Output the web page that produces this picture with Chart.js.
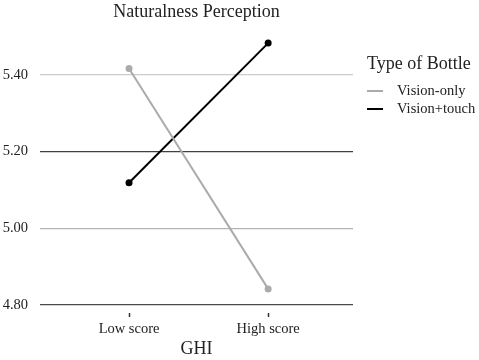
<!DOCTYPE html>
<html>
<head>
<meta charset="utf-8">
<script src="https://cdn.jsdelivr.net/npm/chart.js@4"></script>
<style>
html,body{margin:0;padding:0;background:#fff;}
#wrap{width:479px;height:360px;}
</style>
</head>
<body>
<div id="wrap"><canvas id="c" width="479" height="360"></canvas></div>
<script>
const categories = ['Low score', 'High score'];
const seriesNames = ['Vision-only', 'Vision+touch'];
const visionOnly = [5.417, 4.842];
const visionTouch = [5.119, 5.483];
const yTicks = [4.80, 5.00, 5.20, 5.40];
const seriesColors = ['#ababab', '#000000'];
const gridColors = {'4.8': '#4a4a4a', '5': '#b4b4b4', '5.2': '#404040', '5.4': '#cccccc'};

const FONT = "'Liberation Serif', 'Times New Roman', serif";

function pts(arr){ return arr.map((v,i)=>({x:i, y:v})); }

const legendPlugin = {
  id: 'customLegend',
  afterDraw(chart){
    const ctx = chart.ctx;
    ctx.save();
    ctx.fillStyle = '#222';
    ctx.textBaseline = 'middle';
    ctx.textAlign = 'left';
    ctx.font = '18px ' + FONT;
    ctx.fillText('Type of Bottle', 367, 64);
    ctx.font = '14.5px ' + FONT;
    const ys = [91, 109];
    chart.data.datasets.forEach((ds, i) => {
      ctx.strokeStyle = ds.borderColor;
      ctx.lineWidth = 2;
      ctx.beginPath();
      ctx.moveTo(367, ys[i]);
      ctx.lineTo(383, ys[i]);
      ctx.stroke();
      ctx.fillStyle = '#222';
      ctx.fillText(ds.label, 397, ys[i]);
    });
    ctx.restore();
  }
};

new Chart(document.getElementById('c'), {
  type: 'line',
  data: {
    datasets: [
      {label: seriesNames[0], data: pts(visionOnly), borderColor: seriesColors[0], backgroundColor: seriesColors[0], borderWidth: 2, pointRadius: 3.5, pointBorderWidth: 0},
      {label: seriesNames[1], data: pts(visionTouch), borderColor: seriesColors[1], backgroundColor: seriesColors[1], borderWidth: 2, pointRadius: 3.5, pointBorderWidth: 0}
    ]
  },
  options: {
    responsive: false,
    animation: false,
    devicePixelRatio: 1,
    layout: {padding: {left: 2, right: 126, top: 0, bottom: 0}},
    plugins: {
      legend: {display: false},
      tooltip: {enabled: false},
      title: {
        display: true,
        fullSize: false,
        text: 'Naturalness Perception',
        color: '#222',
        font: {family: FONT, size: 18, weight: 'normal'},
        padding: {top: 1, bottom: 14}
      }
    },
    scales: {
      x: {
        type: 'linear',
        min: -0.64,
        max: 1.61,
        afterBuildTicks(scale){ scale.ticks = categories.map((c,i)=>({value:i})); },
        afterFit(scale){ scale.height = 55; },
        ticks: {
          callback: (v) => categories[v],
          color: '#222',
          font: {family: FONT, size: 14.5, lineHeight: 1.0},
          padding: 5,
          maxRotation: 0,
          autoSkip: false
        },
        grid: {
          drawOnChartArea: false,
          drawTicks: true,
          tickLength: 12,
          tickColor: '#333',
          tickWidth: 1.5,
          tickBorderDash: [0, 8, 4, 30]
        },
        border: {display: false},
        title: {
          display: true,
          text: 'GHI',
          color: '#222',
          font: {family: FONT, size: 18},
          padding: {top: 0, bottom: 0}
        }
      },
      y: {
        min: 4.8,
        max: 5.5,
        afterBuildTicks(scale){ scale.ticks = yTicks.map(v=>({value:v})); },
        afterFit(scale){ scale.width = 38; },
        ticks: {
          callback: (v) => Number(v).toFixed(2),
          color: '#222',
          font: {family: FONT, size: 14.5},
          padding: 12
        },
        grid: {
          drawTicks: false,
          lineWidth: 1.2,
          color: (ctx) => gridColors[String(Math.round(ctx.tick.value*10)/10)] || '#ccc'
        },
        border: {display: false}
      }
    }
  },
  plugins: [legendPlugin]
});
</script>
</body>
</html>
